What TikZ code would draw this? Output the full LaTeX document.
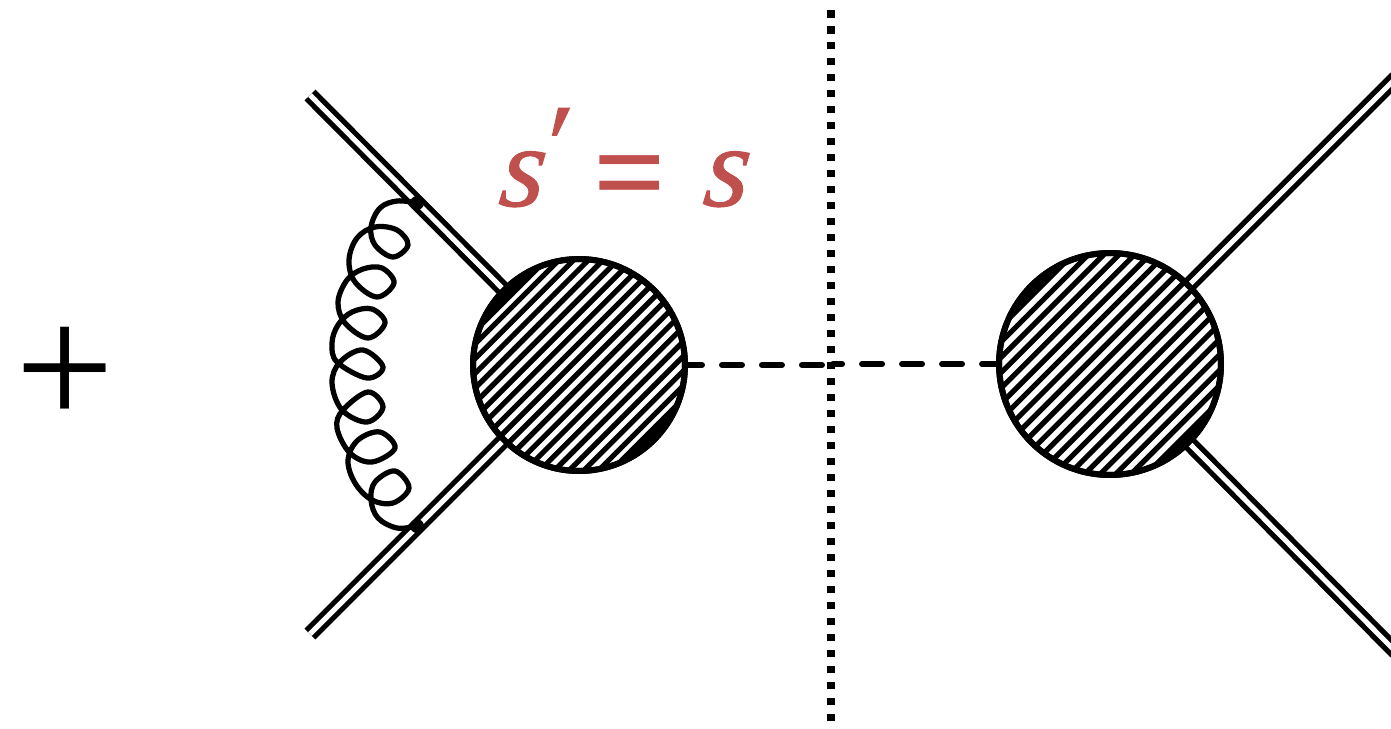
\documentclass[tikz,border=0pt]{standalone}
\usepackage{fontspec}
\setmainfont{Liberation Serif}
\newfontfamily\labfont{Liberation Serif}[ItalicFeatures={FakeBold=0.8,FakeSlant=0.12}]
\usetikzlibrary{calc}
\definecolor{cutred}{HTML}{C0504D}
\newcommand{\hatchblob}[5]{%
  \begin{scope}
    \clip (#1) circle (#2);
    \foreach \k in {1,...,#4} {
      \draw[line width=0.104cm] ($(#1)+({(\k-0.5)*#5-170},{(\k-0.5)*#5+170})$) -- ++(340,-340);
      \draw[line width=0.104cm] ($(#1)+({-(\k-0.5)*#5-170},{-(\k-0.5)*#5+170})$) -- ++(340,-340);
    }
    \draw[line width=0.4cm] ($(#1)+({-0.7071*(#3+10)-170},{-0.7071*(#3+10)+170})$) -- ++(340,-340);
    \draw[line width=0.4cm] ($(#1)+({0.7071*(#3+10)-170},{0.7071*(#3+10)+170})$) -- ++(340,-340);
  \end{scope}}
\begin{document}
\begin{tikzpicture}[x=0.02cm, y=-0.02cm,
    blob/.style={circle, draw=black, line width=0.12cm, inner sep=0pt, outer sep=0pt},
    dline/.style={double=white, double distance=0.1cm, line width=0.105cm},
    dscal/.style={line width=0.12cm, line cap=round, dash pattern=on 0.4cm off 0.4cm},
    vert/.style={circle, fill=black, inner sep=0pt, minimum size=0.28cm}]
  \useasboundingbox (0,0) rectangle (1391,728);
  \clip (0,0) rectangle (1391,728);
  % outer legs
  \coordinate (li1) at (310,95);
  \coordinate (li2) at (310,634);
  \coordinate (ri1) at (1396,78);
  \coordinate (ri2) at (1396,652);
  \coordinate (v1) at (417,203);
  \coordinate (v2) at (417,526);
  \node[blob, minimum size=4.24cm] (lb) at (579,365) {};
  \node[blob, minimum size=4.44cm] (rb) at (1110,364) {};
  \draw[dline] (li1) -- (lb.135);
  \draw[dline] (li2) -- (lb.225);
  \draw[dline] (ri1) -- (rb.45);
  \draw[dline] (ri2) -- (rb.315);
  \hatchblob{lb.center}{106}{95}{9}{7.35}
  \hatchblob{rb.center}{111}{101}{9}{7.71}
  \node[blob, minimum size=4.24cm] at (lb.center) {};
  \node[blob, minimum size=4.44cm] at (rb.center) {};
  % gluon
  \node[vert] (g1) at (v1) {};
  \node[vert] (g2) at (v2) {};
  \draw[line width=0.105cm] plot[smooth, tension=0.6] coordinates {(v1) (397,201) (380,208) (371,227) (375,245) (393,257) (408,245)
    (397,230) (375,227) (357,238) (349,260) (355,282) (377,297) (394,283) (382,268) (363,269) (347,280) (338,302) (345,323)
    (368,338) (385,323) (372,309) (352,312) (338,325) (332,343) (337,362) (367,378) (383,367) (363,350) (340,362) (332,383)
    (342,410) (367,422) (383,407) (368,392) (343,410) (337,428) (350,453) (372,462) (395,448) (380,432) (358,440) (348,460)
    (355,483) (372,500) (393,503) (409,488) (395,471) (375,482) (371,500) (378,518) (397,528) (v2)};
  % cut and scalar
  \coordinate (cl) at (829,365);
  \coordinate (cr) at (833,364);
  \draw[dscal, dash phase=0.06cm] (lb.east) -- (cl);
  \draw[dscal, dash phase=0.06cm] (rb.west) -- (cr);
  \coordinate (ct) at (831,10);
  \coordinate (cb) at (831,728);
  \draw[line width=0.16cm, dash pattern=on 0.15cm off 0.17cm] (ct) -- (cb);
  % labels
  \node[text=cutred, anchor=base west, inner sep=0pt, font=\fontsize{66}{66}\labfont\itshape] (lab) at (497,206)
    {s\kern-5pt\raisebox{12.5pt}{′}\kern19.5pt\raisebox{-5.5pt}{\fontsize{73}{73}\selectfont\upshape\bfseries =}\kern20pt s};
  \node[font=\fontsize{100}{100}\selectfont, inner sep=0pt] (plus) at (65,377) {+};
\end{tikzpicture}
\end{document}
